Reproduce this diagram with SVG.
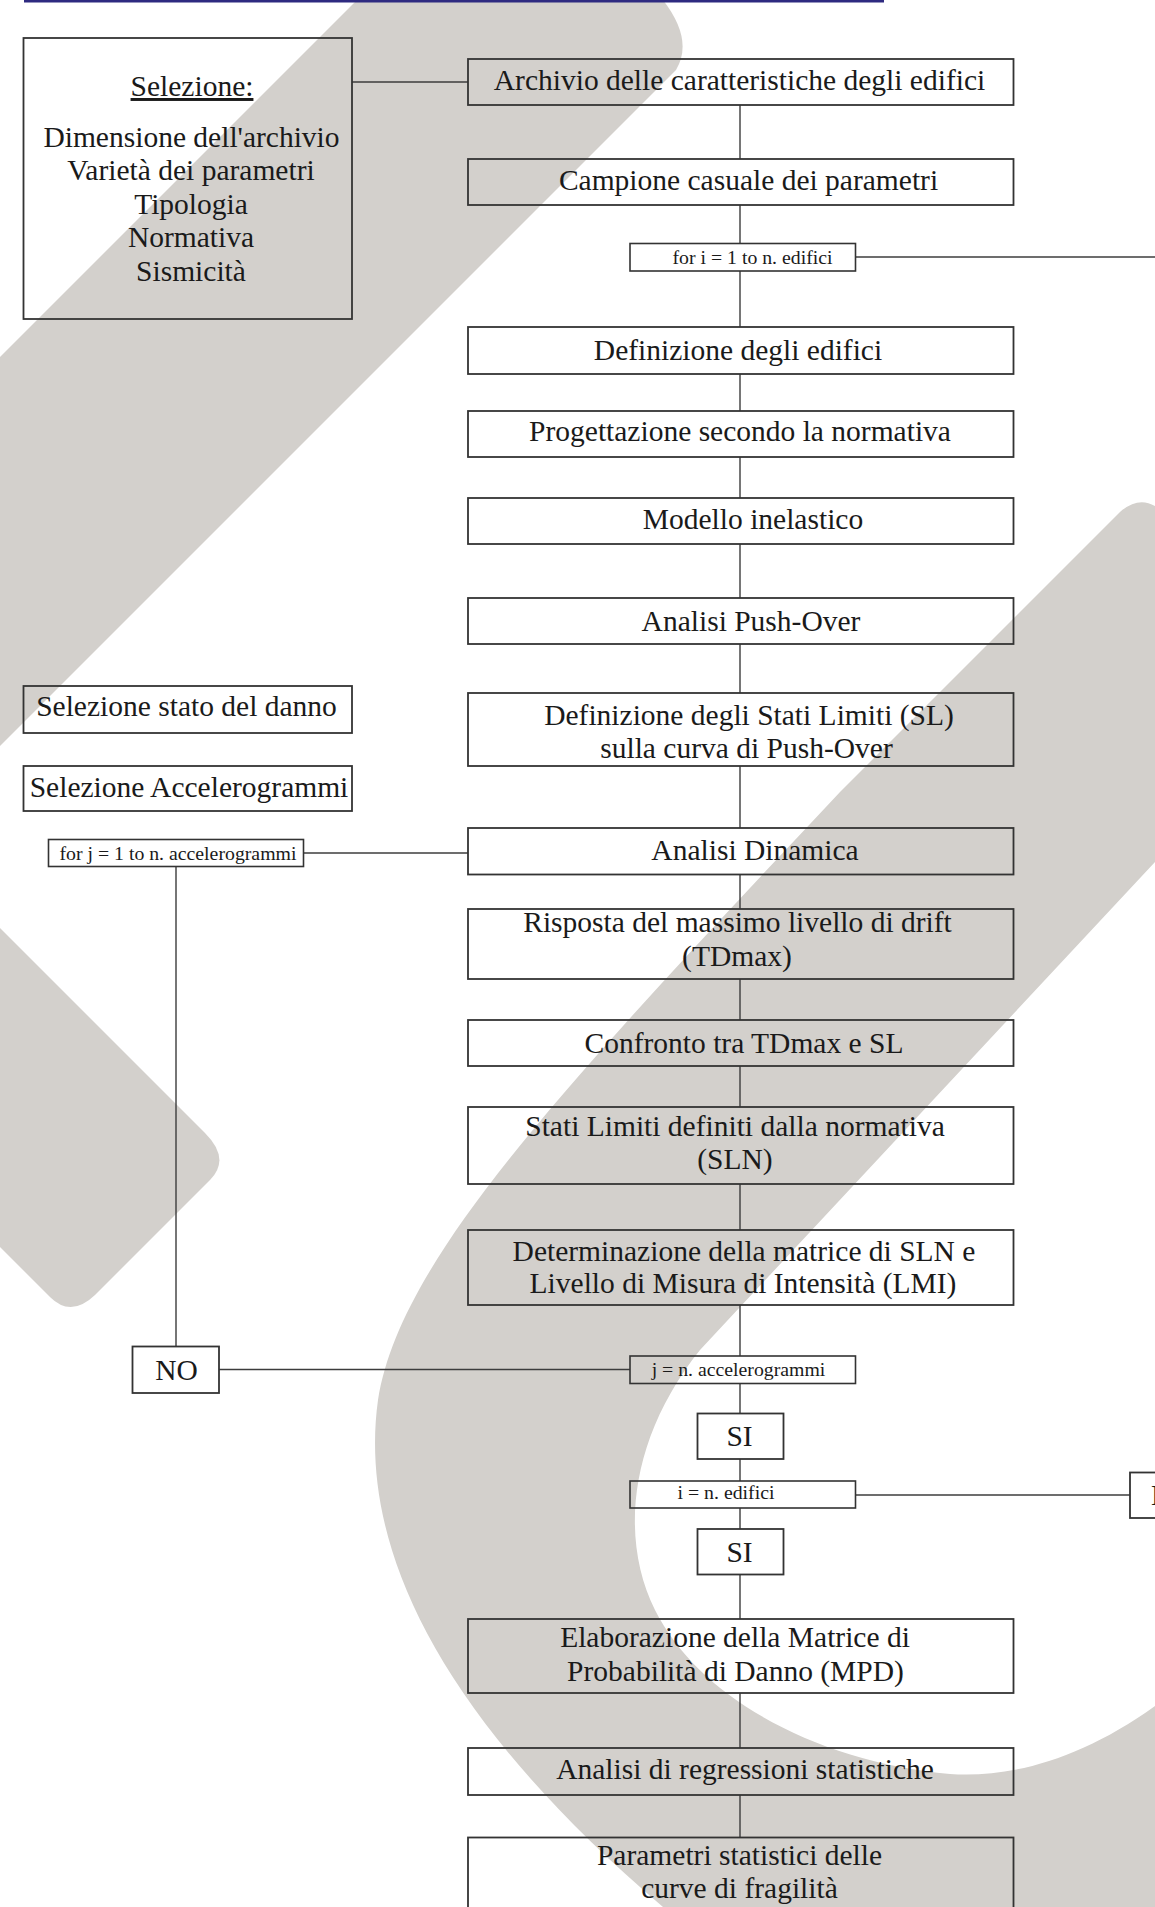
<svg xmlns="http://www.w3.org/2000/svg" width="1155" height="1907" viewBox="0 0 1155 1907">
<style>
.bx{fill:none;stroke:#333;stroke-width:1.8}
.sb{fill:none;stroke:#333;stroke-width:1.6}
.t{font-family:"Liberation Serif","Times New Roman",serif;font-size:29.5px;fill:#1a1a1a;text-anchor:middle}
.s{font-family:"Liberation Serif","Times New Roman",serif;font-size:19.8px;fill:#1a1a1a}
.c{stroke:#3c3c3c;stroke-width:1.4;fill:none}
.wm{fill:#d3d0cc}
</style>
<rect x="0" y="0" width="1155" height="1907" fill="#ffffff"/>
<g id="watermark">
<path class="wm" d="M357 0 L663 0 Q694 40 676 70 L0 746 L0 357 Z"/>
<path class="wm" d="M0 928 L205 1133 Q231 1159 210 1180 L95 1295 Q71 1318 50 1297 L0 1247 Z"/>
<path class="wm" d="M1155 506 Q1138 496 1120 512 L840 792 C560 1090 400 1260 378 1400 C360 1530 420 1700 663 1907 L1155 1907 L1155 1706 C1080 1760 1010 1778 950 1774 C820 1762 700 1700 655 1610 C620 1540 628 1440 700 1350 L1155 862 Z"/>
</g>
<rect x="24" y="0" width="860" height="2.5" fill="#2e2a80"/>
<g id="connectors">
<line class="c" x1="352" y1="82" x2="468" y2="82"/>
<line class="c" x1="740" y1="105" x2="740" y2="159"/>
<line class="c" x1="740" y1="205" x2="740" y2="243.5"/>
<line class="c" x1="740" y1="271" x2="740" y2="327"/>
<line class="c" x1="740" y1="374" x2="740" y2="411"/>
<line class="c" x1="740" y1="457" x2="740" y2="498"/>
<line class="c" x1="740" y1="544" x2="740" y2="598"/>
<line class="c" x1="740" y1="644" x2="740" y2="693"/>
<line class="c" x1="740" y1="766" x2="740" y2="828"/>
<line class="c" x1="740" y1="874.5" x2="740" y2="909"/>
<line class="c" x1="740" y1="979" x2="740" y2="1020"/>
<line class="c" x1="740" y1="1066" x2="740" y2="1107"/>
<line class="c" x1="740" y1="1184" x2="740" y2="1230"/>
<line class="c" x1="740" y1="1305" x2="740" y2="1356"/>
<line class="c" x1="740" y1="1383.5" x2="740" y2="1413.5"/>
<line class="c" x1="740" y1="1459" x2="740" y2="1481"/>
<line class="c" x1="740" y1="1508" x2="740" y2="1529"/>
<line class="c" x1="740" y1="1574.5" x2="740" y2="1619"/>
<line class="c" x1="740" y1="1693" x2="740" y2="1748"/>
<line class="c" x1="740" y1="1795" x2="740" y2="1837.5"/>
<line class="c" x1="855.5" y1="257" x2="1155" y2="257"/>
<line class="c" x1="303.5" y1="853" x2="468" y2="853"/>
<line class="c" x1="176" y1="866.5" x2="176" y2="1346.5"/>
<line class="c" x1="219" y1="1369.5" x2="630" y2="1369.5"/>
<line class="c" x1="855.5" y1="1495" x2="1130" y2="1495"/>
</g>
<g id="n1"><rect class="bx" x="23.5" y="38" width="328.5" height="281"/>
<text class="t" x="192" y="96" text-decoration="underline">Selezione:</text>
<text class="t" x="191.5" y="146.5">Dimensione dell'archivio</text>
<text class="t" x="191" y="180">Varietà dei parametri</text>
<text class="t" x="191" y="213.5">Tipologia</text>
<text class="t" x="191" y="247">Normativa</text>
<text class="t" x="191" y="280.5">Sismicità</text></g>
<g id="n2"><rect class="bx" x="468" y="59" width="545.5" height="46"/><text class="t" x="739.5" y="90">Archivio delle caratteristiche degli edifici</text></g>
<g id="n3"><rect class="bx" x="468" y="159" width="545.5" height="46"/><text class="t" x="748.5" y="190">Campione casuale dei parametri</text></g>
<g id="n4"><rect class="sb" x="630" y="243.5" width="225.5" height="27.5"/><text class="s" x="672.5" y="264">for i = 1 to n. edifici</text></g>
<g id="n5"><rect class="bx" x="468" y="327" width="545.5" height="47"/><text class="t" x="738" y="359.5">Definizione degli edifici</text></g>
<g id="n6"><rect class="bx" x="468" y="411" width="545.5" height="46"/><text class="t" x="740" y="441">Progettazione secondo la normativa</text></g>
<g id="n7"><rect class="bx" x="468" y="498" width="545.5" height="46"/><text class="t" x="753" y="529">Modello inelastico</text></g>
<g id="n8"><rect class="bx" x="468" y="598" width="545.5" height="46"/><text class="t" x="751" y="631">Analisi Push-Over</text></g>
<g id="n9"><rect class="bx" x="468" y="693" width="545.5" height="73"/><text class="t" x="749" y="725">Definizione degli Stati Limiti (SL)</text><text class="t" x="746.5" y="758">sulla curva di Push-Over</text></g>
<g id="n10"><rect class="bx" x="23.5" y="686" width="328.5" height="47"/><text class="t" x="186.5" y="716">Selezione stato del danno</text></g>
<g id="n11"><rect class="bx" x="23.5" y="766" width="328.5" height="45"/><text class="t" x="189" y="797">Selezione Accelerogrammi</text></g>
<g id="n12"><rect class="sb" x="48.5" y="839.5" width="255" height="27"/><text class="s" x="59.5" y="860">for j = 1 to n. accelerogrammi</text></g>
<g id="n13"><rect class="bx" x="468" y="828" width="545.5" height="46.5"/><text class="t" x="755" y="860">Analisi Dinamica</text></g>
<g id="n14"><rect class="bx" x="468" y="909" width="545.5" height="70"/><text class="t" x="737.5" y="932">Risposta del massimo livello di drift</text><text class="t" x="737" y="966">(TDmax)</text></g>
<g id="n15"><rect class="bx" x="468" y="1020" width="545.5" height="46"/><text class="t" x="744" y="1053">Confronto tra TDmax e SL</text></g>
<g id="n16"><rect class="bx" x="468" y="1107" width="545.5" height="77"/><text class="t" x="735" y="1135.5">Stati Limiti definiti dalla normativa</text><text class="t" x="735" y="1169">(SLN)</text></g>
<g id="n17"><rect class="bx" x="468" y="1230" width="545.5" height="75"/><text class="t" x="744" y="1260.5">Determinazione della matrice di SLN e</text><text class="t" x="743" y="1293">Livello di Misura di Intensità (LMI)</text></g>
<g id="n18"><rect class="bx" x="132.5" y="1346.5" width="86.5" height="46.5"/><text class="t" x="176.5" y="1379.5">NO</text></g>
<g id="n19"><rect class="sb" x="630" y="1356" width="225.5" height="27.5"/><text class="s" x="738.5" y="1376" text-anchor="middle">j = n. accelerogrammi</text></g>
<g id="n20"><rect class="bx" x="697.5" y="1413.5" width="86" height="45.5"/><text class="t" x="739.5" y="1446">SI</text></g>
<g id="n21"><rect class="sb" x="630" y="1481" width="225.5" height="27"/><text class="s" x="726" y="1499" text-anchor="middle">i = n. edifici</text></g>
<g id="n22"><rect class="bx" x="1130" y="1472.5" width="60" height="45.5"/><text class="t" x="1151" y="1505" style="text-anchor:start">NO</text></g>
<g id="n23"><rect class="bx" x="697.5" y="1529" width="86" height="45.5"/><text class="t" x="739.5" y="1562">SI</text></g>
<g id="n24"><rect class="bx" x="468" y="1619" width="545.5" height="74"/><text class="t" x="735" y="1647">Elaborazione della Matrice di</text><text class="t" x="735.5" y="1681">Probabilità di Danno (MPD)</text></g>
<g id="n25"><rect class="bx" x="468" y="1748" width="545.5" height="47"/><text class="t" x="745" y="1779">Analisi di regressioni statistiche</text></g>
<g id="n26"><rect class="bx" x="468" y="1837.5" width="545.5" height="80"/><text class="t" x="739.5" y="1865">Parametri statistici delle</text><text class="t" x="739.5" y="1898">curve di fragilità</text></g>
</svg>
